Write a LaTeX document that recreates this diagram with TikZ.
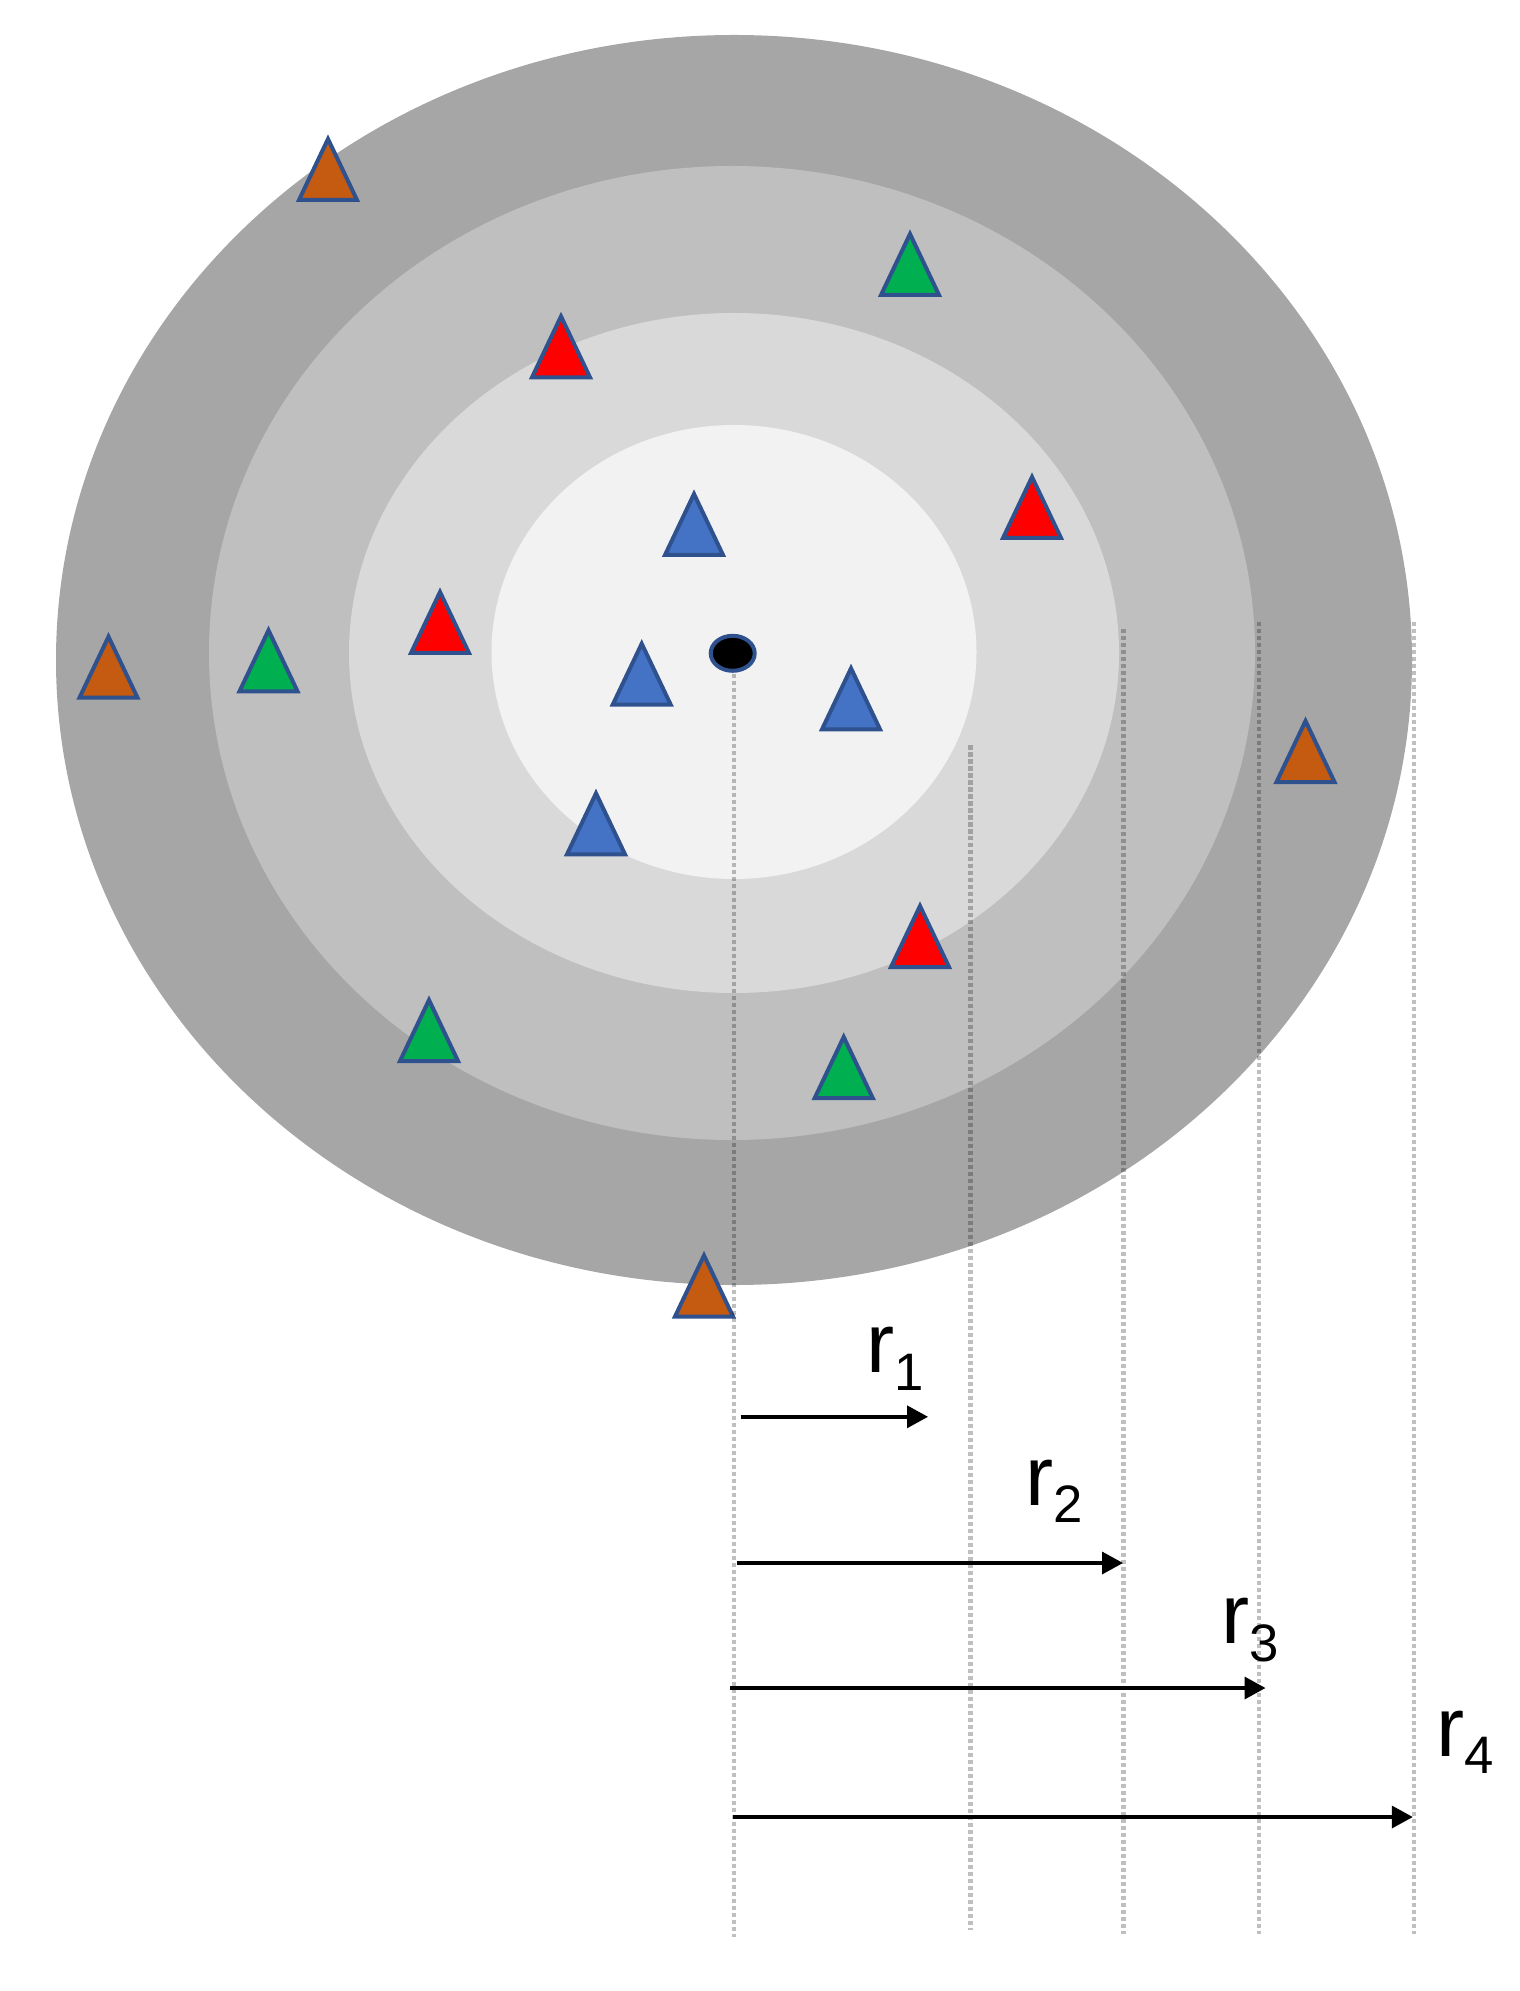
\documentclass[tikz,border=0pt]{standalone}
\usepackage{fontspec}
\setmainfont{Liberation Sans}
\usetikzlibrary{arrows.meta}

\definecolor{ringOut}{HTML}{A6A6A6}
\definecolor{ringMid}{HTML}{BFBFBF}
\definecolor{ringIn}{HTML}{D9D9D9}
\definecolor{ringCore}{HTML}{F2F2F2}
\definecolor{triEdge}{HTML}{2F528F}
\definecolor{triOrange}{HTML}{C55A11}
\definecolor{triGreen}{HTML}{00B050}
\definecolor{triRed}{HTML}{FF0000}
\definecolor{triBlue}{HTML}{4472C4}

\newcommand{\rlab}[1]{r\raisebox{-5.1pt}{\fontsize{15}{15}\selectfont #1}}

\begin{document}
\begin{tikzpicture}[x=0.1mm, y=-0.1mm,
	tri/.style={draw=triEdge, line width=0.4mm},
	guide/.style={black, opacity=0.25, line width=0.45mm, dash pattern=on 0.45mm off 0.25mm},
	radius arrow/.style={-{Triangle[length=2.1mm,width=2.2mm]}, line width=0.35mm},
	lab/.style={anchor=base west, inner sep=0pt, font=\fontsize{24}{24}\selectfont}]
	\useasboundingbox (0,0) rectangle (1519,1991);
	% rings
	\fill[ringOut] (734,660) ellipse [x radius=678, y radius=625];
	\fill[ringMid] (732,653) ellipse [x radius=523, y radius=487];
	\fill[ringIn] (734,653) ellipse [x radius=385, y radius=340];
	\fill[ringCore] (734,652) ellipse [x radius=242.5, y radius=227];
	% triangles
	\foreach \x/\y/\c in {328/200/triOrange, 910/295/triGreen, 561/377.4/triRed,
		694/555/triBlue, 1032/538/triRed, 440/653/triRed, 268.5/691.3/triGreen,
		108.5/697.7/triOrange, 641.7/704.7/triBlue, 851/729.3/triBlue,
		1305.5/782/triOrange, 596/854.3/triBlue, 920/967/triRed,
		429/1061/triGreen, 843.7/1098/triGreen, 704/1316.5/triOrange}
		\draw[tri, fill=\c] (\x-29,\y) -- (\x,\y-61) -- (\x+29,\y) -- cycle;
	% guide lines
	\foreach \i/\x/\t/\b in {0/734/674/1937, 1/970.5/745/1930, 2/1123.5/629/1934,
		3/1259/622/1934, 4/1414/622/1934}
	{
		\coordinate (g\i t) at (\x,\t);
		\coordinate (g\i b) at (\x,\b);
		\draw[guide] (g\i t) -- (g\i b);
	}
	\filldraw[fill=black, draw=triEdge, line width=0.4mm] (732.7,653.3) coordinate (o)
		ellipse [x radius=22, y radius=17.5];
	% radii
	\foreach \i/\xs/\xe/\y in {1/740.7/928/1416.8, 2/736.6/1123/1563,
		3/729.8/1265.5/1688, 4/733/1412.8/1817}
	{
		\coordinate (s\i) at (\xs,\y);
		\coordinate (e\i) at (\xe,\y);
		\draw[radius arrow] (s\i) -- (e\i);
	}
	\node[lab] (r1) at (865.3,1372.7) {\rlab{1}};
	\node[lab] (r2) at (1024.5,1505) {\rlab{2}};
	\node[lab] (r3) at (1220.5,1643.8) {\rlab{3}};
	\node[lab] (r4) at (1436,1756) {\rlab{4}};
\end{tikzpicture}
\end{document}
